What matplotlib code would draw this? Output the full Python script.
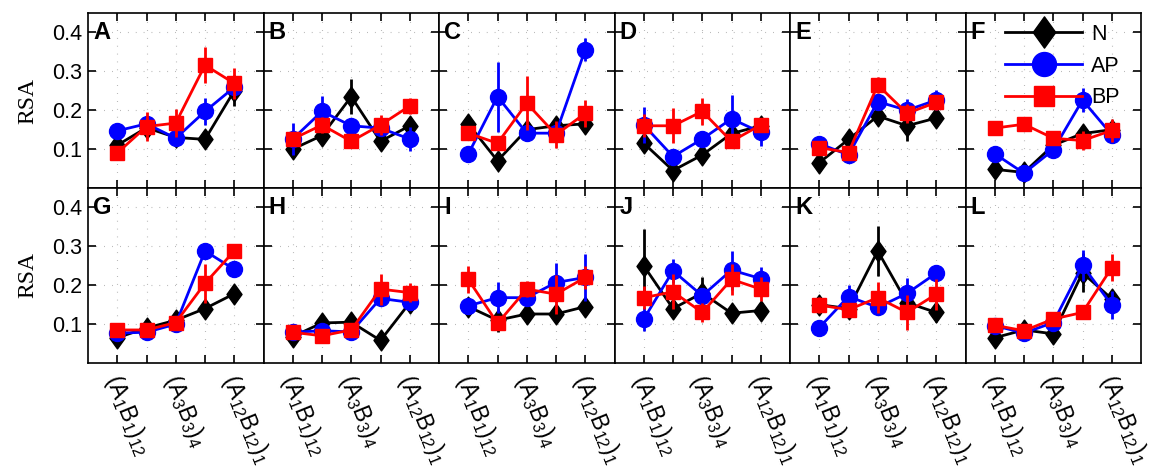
import matplotlib
matplotlib.use("Agg")
import matplotlib.pyplot as plt
from matplotlib.path import Path

plt.rcParams["font.family"] = ["Liberation Sans", "DejaVu Sans"]
plt.rcParams["mathtext.fontset"] = "custom"
plt.rcParams["mathtext.rm"] = "Liberation Sans"
plt.rcParams["mathtext.it"] = "Liberation Sans"
plt.rcParams["mathtext.default"] = "regular"

# ---- data, one row per panel A..L ----
panel_letters = list("ABCDEFGHIJKL")
x_pos = [1, 2, 3, 4, 5]
x_ticklabels = [r"$(A_1B_1)_{12}$", r"$(A_3B_3)_4$", r"$(A_{12}B_{12})_1$"]

n_mean = [
    [0.11, 0.155, 0.13, 0.125, 0.25],
    [0.10, 0.135, 0.235, 0.12, 0.16],
    [0.165, 0.07, 0.15, 0.16, 0.165],
    [0.115, 0.045, 0.085, 0.14, 0.16],
    [0.065, 0.125, 0.185, 0.16, 0.18],
    [0.048, 0.04, 0.11, 0.14, 0.15],
    [0.065, 0.09, 0.11, 0.14, 0.178],
    [0.068, 0.103, 0.105, 0.058, 0.155],
    [0.145, 0.11, 0.126, 0.126, 0.145],
    [0.25, 0.14, 0.18, 0.128, 0.135],
    [0.15, 0.14, 0.288, 0.155, 0.13],
    [0.065, 0.085, 0.075, 0.232, 0.165],
]
n_err = [
    [0.01, 0.01, 0.01, 0.01, 0.04],
    [0.01, 0.015, 0.045, 0.015, 0.015],
    [0.01, 0.01, 0.015, 0.015, 0.01],
    [0.01, 0.01, 0.01, 0.02, 0.01],
    [0.01, 0.02, 0.015, 0.04, 0.01],
    [0.01, 0.01, 0.01, 0.015, 0.01],
    [0.01, 0.01, 0.01, 0.01, 0.01],
    [0.01, 0.01, 0.01, 0.01, 0.02],
    [0.02, 0.03, 0.02, 0.02, 0.02],
    [0.095, 0.02, 0.04, 0.015, 0.015],
    [0.02, 0.02, 0.065, 0.02, 0.025],
    [0.01, 0.01, 0.01, 0.05, 0.015],
]
ap_mean = [
    [0.147, 0.165, 0.128, 0.197, 0.259],
    [0.126, 0.197, 0.16, 0.154, 0.126],
    [0.087, 0.235, 0.141, 0.141, 0.356],
    [0.162, 0.081, 0.126, 0.178, 0.143],
    [0.114, 0.085, 0.222, 0.2, 0.226],
    [0.088, 0.038, 0.098, 0.226, 0.137],
    [0.077, 0.079, 0.1, 0.288, 0.241],
    [0.079, 0.083, 0.08, 0.166, 0.156],
    [0.147, 0.168, 0.168, 0.207, 0.22],
    [0.113, 0.237, 0.173, 0.239, 0.217],
    [0.091, 0.171, 0.143, 0.179, 0.231],
    [0.096, 0.077, 0.104, 0.251, 0.149],
]
ap_err = [
    [0.02, 0.01, 0.015, 0.035, 0.02],
    [0.04, 0.04, 0.02, 0.02, 0.03],
    [0.02, 0.09, 0.02, 0.015, 0.03],
    [0.045, 0.015, 0.015, 0.06, 0.035],
    [0.01, 0.01, 0.015, 0.03, 0.025],
    [0.01, 0.01, 0.01, 0.03, 0.01],
    [0.01, 0.01, 0.01, 0.02, 0.01],
    [0.01, 0.01, 0.01, 0.015, 0.015],
    [0.02, 0.04, 0.02, 0.05, 0.06],
    [0.03, 0.03, 0.02, 0.05, 0.03],
    [0.01, 0.03, 0.015, 0.04, 0.02],
    [0.01, 0.01, 0.01, 0.04, 0.035],
]
bp_mean = [
    [0.09, 0.158, 0.167, 0.316, 0.269],
    [0.126, 0.162, 0.12, 0.162, 0.211],
    [0.141, 0.115, 0.218, 0.137, 0.192],
    [0.16, 0.16, 0.197, 0.12, 0.162],
    [0.104, 0.091, 0.265, 0.192, 0.22],
    [0.154, 0.164, 0.128, 0.122, 0.148],
    [0.085, 0.085, 0.104, 0.205, 0.288],
    [0.079, 0.07, 0.085, 0.19, 0.181],
    [0.215, 0.102, 0.19, 0.177, 0.22],
    [0.168, 0.183, 0.13, 0.215, 0.19],
    [0.149, 0.137, 0.168, 0.13, 0.177],
    [0.097, 0.083, 0.113, 0.13, 0.245],
]
bp_err = [
    [0.015, 0.038, 0.035, 0.047, 0.039],
    [0.015, 0.02, 0.015, 0.025, 0.02],
    [0.015, 0.015, 0.07, 0.035, 0.035],
    [0.03, 0.045, 0.035, 0.015, 0.015],
    [0.01, 0.01, 0.02, 0.025, 0.02],
    [0.015, 0.01, 0.01, 0.025, 0.03],
    [0.01, 0.01, 0.01, 0.05, 0.015],
    [0.01, 0.01, 0.01, 0.04, 0.025],
    [0.035, 0.015, 0.02, 0.05, 0.03],
    [0.03, 0.045, 0.025, 0.04, 0.03],
    [0.02, 0.015, 0.04, 0.045, 0.04],
    [0.01, 0.01, 0.015, 0.015, 0.035],
]

# MATLAB-style diamond: taller than wide
diamond = Path([(0, 1), (0.72, 0), (0, -1), (-0.72, 0), (0, 1)],
               [Path.MOVETO, Path.LINETO, Path.LINETO, Path.LINETO, Path.CLOSEPOLY])

series = [
    ("N", n_mean, n_err, "black", diamond, 15),
    ("AP", ap_mean, ap_err, "blue", "o", 11.5),
    ("BP", bp_mean, bp_err, "red", "s", 10),
]

W, H = 1155, 472
fig = plt.figure(figsize=(W / 100, H / 100), dpi=100)

left_px, top_px = 88, 13
pw, ph = 175.5, 175
tick_fs = 15.5

for i, letter in enumerate(panel_letters):
    row, col = divmod(i, 6)
    x0 = (left_px + col * pw) / W
    y0 = 1 - (top_px + (row + 1) * ph) / H
    ax = fig.add_axes([x0, y0, pw / W, ph / H])

    handles = []
    for name, means, errs, color, marker, ms in series:
        ax.errorbar(x_pos, means[i], yerr=errs[i], fmt="none", ecolor=color,
                    elinewidth=2, capsize=0, zorder=3)
        (h,) = ax.plot(x_pos, means[i], color=color, lw=2, marker=marker,
                       markersize=ms, markerfacecolor=color,
                       markeredgecolor=color, zorder=3, label=name)
        handles.append(h)

    ax.set_xlim(0, 6)
    ax.set_ylim(0, 0.45)
    ax.set_xticks(x_pos)
    ax.set_yticks([0.1, 0.2, 0.3, 0.4])
    ax.grid(True, color="#999999", lw=0.8, linestyle=(0, (0.6, 6.5)))
    ax.set_axisbelow(True)
    ax.tick_params(direction="in", length=6, width=1.2, top=True, right=True,
                   labelsize=tick_fs, pad=4)
    for s in ax.spines.values():
        s.set_linewidth(1.2)

    if col == 0:
        ax.set_yticklabels(["0.1", "0.2", "0.3", "0.4"])
        ax.set_ylabel("RSA", family="Liberation Serif", fontsize=17, labelpad=10)
    else:
        ax.set_yticklabels([])

    ax.set_xticklabels([])
    if row == 1:
        for xi, lab in zip([1, 3, 5], x_ticklabels):
            ax.annotate(lab, xy=(xi, 0), xycoords="data",
                        xytext=(5, -6), textcoords="offset points",
                        rotation=-68, rotation_mode="anchor",
                        ha="left", va="top", fontsize=16.5, annotation_clip=False)

    ax.text(0.17, 0.4, letter, fontsize=17, fontweight="bold",
            ha="left", va="center", zorder=5)

    if letter == "F":
        ax.legend(handles=handles, loc="upper right", frameon=False,
                  fontsize=tick_fs, markerscale=1.5, handlelength=3.6,
                  handletextpad=0.4, labelspacing=0.5, borderaxespad=0.0,
                  borderpad=0.5, bbox_to_anchor=(0.94, 1.0))

fig.savefig("out.png", dpi=100)
